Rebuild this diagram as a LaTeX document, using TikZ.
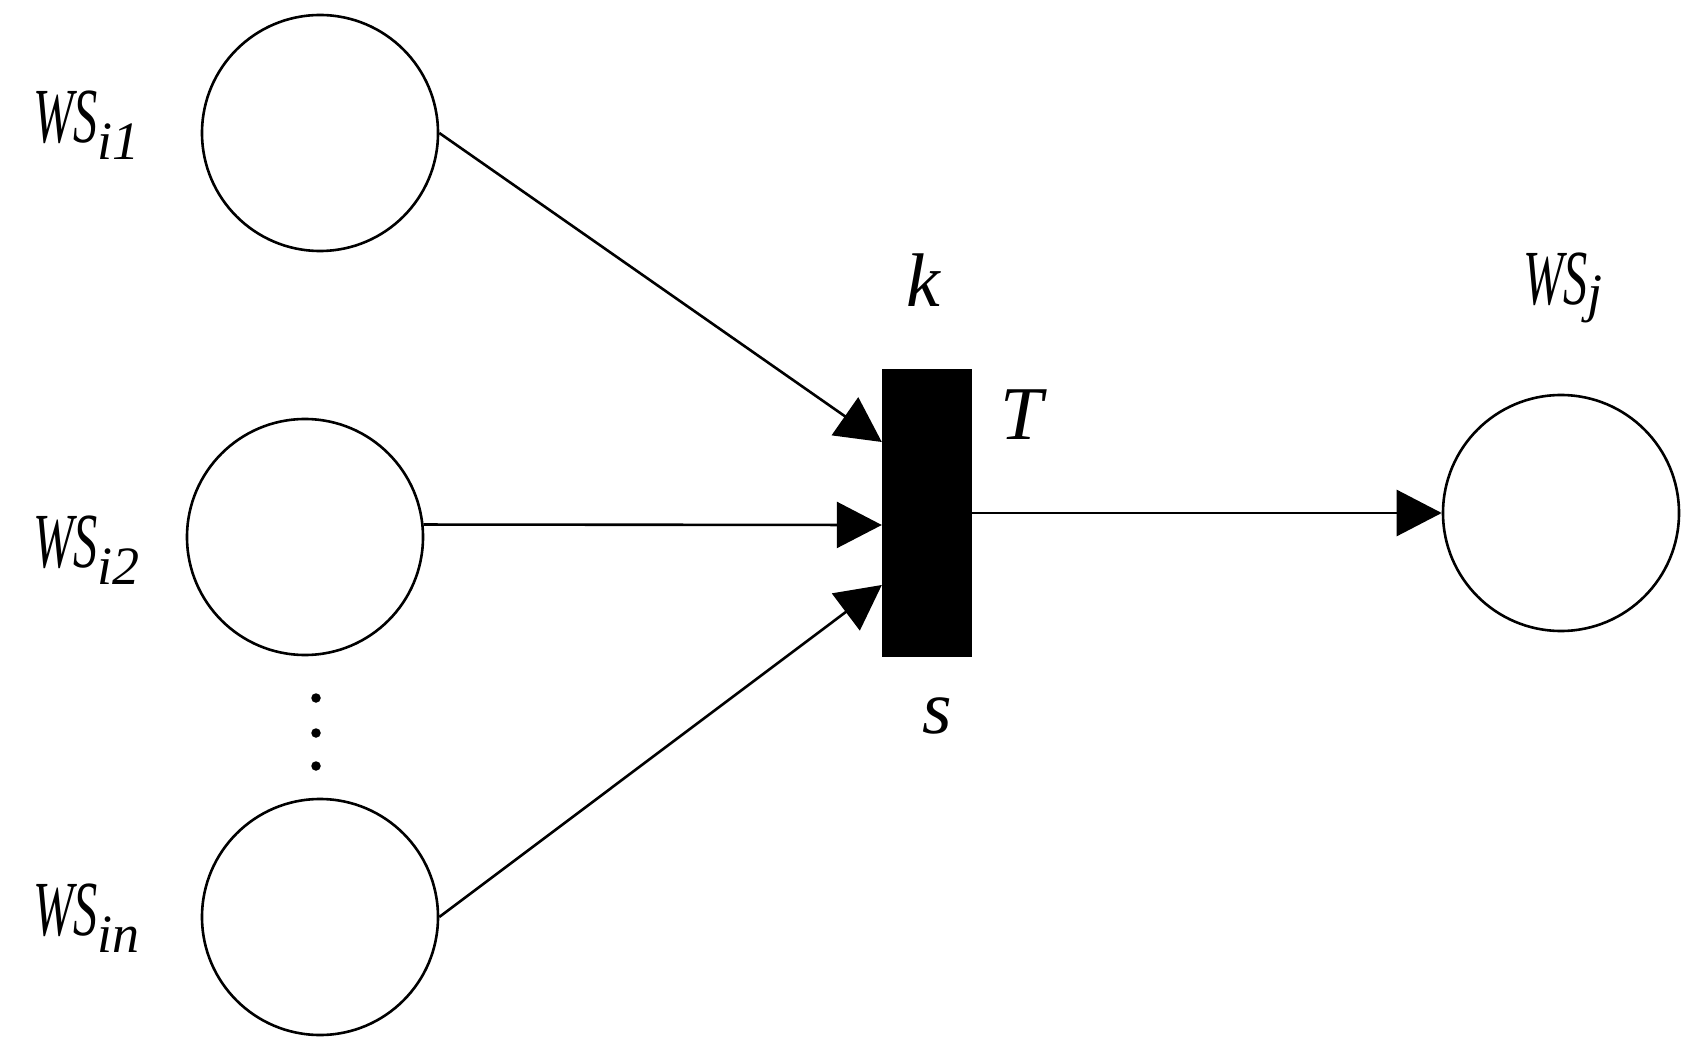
\documentclass[tikz,border=0pt]{standalone}
\usepackage{graphicx}
\usepackage{fontspec}
\setmainfont{Liberation Serif}[ItalicFont={Liberation Serif Italic}]
\usetikzlibrary{arrows.meta}
\newcommand{\WSlabel}[2]{\scalebox{0.62}[1]{\itshape\fontsize{78}{78}\selectfont WS}\raisebox{-#2pt}{\itshape\fontsize{54}{54}\selectfont #1}}
\begin{document}
\begin{tikzpicture}[x=1pt,y=-1pt,
  place/.style={circle,draw,line width=2.6pt,minimum size=236pt,inner sep=0pt},
  trans/.style={rectangle,fill=black,draw=none,minimum width=90pt,minimum height=288pt,inner sep=0pt},
  arc/.style={line width=2.6pt,-{Triangle[length=45pt,width=46pt]}},
  lbl/.style={anchor=base west,inner sep=0pt,font=\itshape\fontsize{76}{76}\selectfont},
  wslbl/.style={anchor=base west,inner sep=0pt},
  dotnode/.style={circle,fill=black,draw=none,minimum width=8.5pt,minimum height=9.5pt,inner sep=0pt}]
\useasboundingbox (0,0) rectangle (1697,1064);
% places
\node[place] (c1) at (320,133) {};
\node[place] (c2) at (305,537) {};
\node[place] (cn) at (320,917) {};
\node[place] (cj) at (1561,513) {};
% transition
\node[trans] (T) at (927,513) {};
\coordinate (in1) at ([yshift=71pt]T.west);
\coordinate (in2) at ([yshift=-12pt]T.west);
\coordinate (in3) at ([yshift=-72pt]T.west);
% arcs
\draw[arc] (c1.east) -- (in1);
\draw[arc] (c2.6) -- (in2);
\draw[arc] (cn.east) -- (in3);
\draw[arc] (T.east) -- (cj.west);
% dots
\node[dotnode] (d1) at (316,698) {};
\node[dotnode] (d2) at (316,733) {};
\node[dotnode] (d3) at (316,766) {};
% labels
\node[wslbl] (l1) at (33,143) {\WSlabel{i1}{17}};
\node[wslbl] (l2) at (33,567) {\WSlabel{i2}{17}};
\node[wslbl] (ln) at (33,935) {\WSlabel{in}{17}};
\node[wslbl] (lj) at (1523,305) {\WSlabel{j}{7}};
\node[lbl] (lk) at (906,307) {k};
\node[lbl] (lT) at (1000,439) {T};
\node[lbl] (ls) at (922,733) {s};
\end{tikzpicture}
\end{document}
